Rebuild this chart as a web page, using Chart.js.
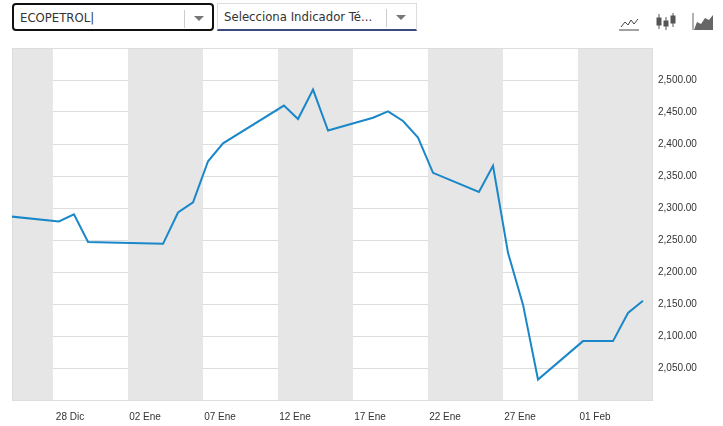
<!DOCTYPE html><html><head><meta charset="utf-8">
<script src="https://cdn.jsdelivr.net/npm/chart.js@4"></script>
<style>
body{margin:0;width:723px;height:426px;background:#fff;font-family:"DejaVu Sans Condensed","DejaVu Sans",sans-serif;position:relative;overflow:hidden}
.dd{position:absolute;top:3px;height:28px;box-sizing:border-box;font-size:13px;color:#333;line-height:26px;padding-left:6px}
.arr{position:absolute;top:5px;width:1px;height:18px;background:#ccc}
.tri{position:absolute;top:11px;width:0;height:0;border-left:5px solid transparent;border-right:5px solid transparent;border-top:5px solid #777}
#wrap{position:absolute;left:0;top:36px;width:723px;height:390px}
</style></head><body>
<div class="dd" style="left:12px;width:202px;border:2px solid #111;border-radius:4px">ECOPETROL|<div class="arr" style="left:170px"></div><div class="tri" style="left:180px"></div></div>
<div class="dd" style="left:217px;width:200px;border:1px solid #ddd;border-bottom:2px solid #3a4a7a">Selecciona Indicador Té...<div class="arr" style="left:168px"></div><div class="tri" style="left:178px"></div></div>
<svg style="position:absolute;left:619px;top:12px" width="104" height="20">
<polyline points="2,15 6,10 9,13 12,8 15,12 19,7" fill="none" stroke="#444" stroke-width="1"/><line x1="0" y1="18" x2="20" y2="18" stroke="#444"/>
<g stroke="#555" stroke-width="1"><line x1="40" y1="2" x2="40" y2="17"/><rect x="38" y="6" width="4" height="7" fill="#555"/><line x1="47" y1="5" x2="47" y2="18"/><rect x="45" y="9" width="4" height="5" fill="#555"/><line x1="54" y1="1" x2="54" y2="15"/><rect x="52" y="4" width="4" height="7" fill="#555"/></g>
<polygon points="75,18 78,10 82,12 86,6 90,8 94,3 94,18" fill="#666"/><line x1="74" y1="1" x2="74" y2="18" stroke="#666"/>
</svg>
<div id="wrap"><canvas id="c"></canvas></div>
<script>
const dayIndex=[-0.2,3.13,4.13,5.07,10.07,11.07,12.07,13.07,14.07,18.13,19.07,20.07,21.07,24.07,25.07,26.07,27.07,28.07,31.13,32.07,33.07,34.07,35.07,38.07,39.07,40.07,41.07,42.07];
const prices=[2287,2279,2290,2247,2244,2293,2309,2373,2401,2460,2439,2485,2421,2441,2451,2436,2410,2355,2325,2366,2230,2149,2032,2092,2092,2092,2136,2155];
const tickDays=[3.87,8.87,13.87,18.87,23.87,28.87,33.87,38.87];
const tickLabels=['28 Dic','02 Ene','07 Ene','12 Ene','17 Ene','22 Ene','27 Ene','01 Feb'];
const bandStarts=[-2.27,7.73,17.73,27.73,37.73];
const bands={id:'bands',beforeDatasetsDraw(ch){const {ctx,chartArea:a,scales:{x}}=ch;ctx.save();ctx.fillStyle='#e6e6e6';
for(const s of bandStarts){let l=Math.max(x.getPixelForValue(s),a.left),r=Math.min(x.getPixelForValue(s+5),a.right);if(r>l)ctx.fillRect(l,a.top,r-l,a.bottom-a.top);}
ctx.strokeStyle='#ddd';ctx.strokeRect(a.left+0.5,a.top+0.5,a.right-a.left,a.bottom-a.top);ctx.restore();}};
new Chart(document.getElementById('c'),{type:'line',
data:{datasets:[{data:dayIndex.map((d,i)=>({x:d,y:prices[i]})),borderColor:'#1a87c9',borderWidth:2,pointRadius:0,tension:0}]},
options:{responsive:true,maintainAspectRatio:false,animation:false,
layout:{padding:{left:12,top:0,right:0,bottom:0}},
plugins:{legend:{display:false},tooltip:{enabled:false}},
scales:{x:{type:'linear',min:0,max:42.67,
afterBuildTicks(s){s.ticks=tickDays.map(v=>({value:v}));},
ticks:{autoSkip:false,maxRotation:0,color:'#333',font:{size:10},callback:(v,i)=>tickLabels[i]},
grid:{display:false},border:{display:false}},
y:{position:'right',min:2000,max:2550,
afterBuildTicks(s){const t=[];for(let v=2000;v<=2550;v+=50)t.push({value:v});s.ticks=t;},
ticks:{color:'#333',font:{size:10},padding:6,callback:v=>(v<2050||v>2500)?'':v.toLocaleString('en-US',{minimumFractionDigits:2})},
grid:{color:'#ddd',drawTicks:false},border:{display:false},afterFit(s){s.width=71;}}}},
plugins:[bands]});
</script></body></html>
